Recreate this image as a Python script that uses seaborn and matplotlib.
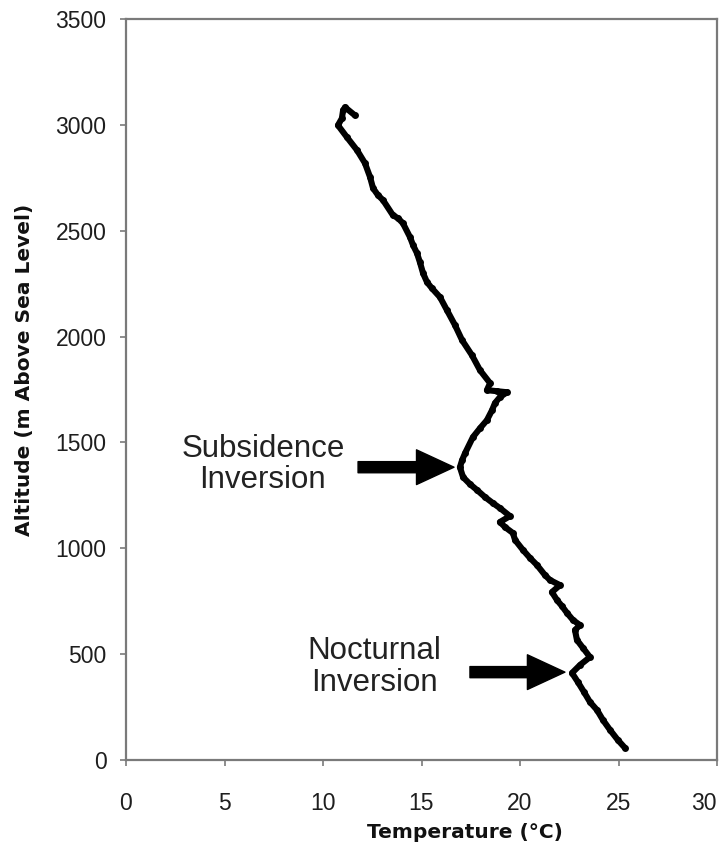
import matplotlib
matplotlib.use("Agg")
import matplotlib.pyplot as plt
import seaborn as sns
import pandas as pd

# Temperature profile, bottom to top
temperature_c = [25.33, 24.97, 24.57, 24.21, 23.91, 23.55, 23.25, 22.94, 22.64, 23.05,
                 23.55, 23.20, 22.89, 22.79, 23.05, 22.69, 22.39, 22.13, 21.88, 21.62,
                 22.03, 21.52, 21.27, 20.86, 20.51, 20.15, 19.75, 19.64, 19.24, 18.98,
                 19.49, 18.98, 18.63, 18.22, 17.82, 17.46, 17.11, 16.95, 17.06, 17.21,
                 17.61, 17.97, 18.32, 18.58, 18.73, 18.98, 19.34, 18.83, 18.32, 18.48,
                 17.97, 17.56, 17.06, 16.70, 16.29, 15.94, 15.53, 15.28, 15.08, 14.92,
                 14.77, 14.57, 14.42, 14.06, 13.81, 13.55, 13.05, 12.79, 12.54, 12.39,
                 12.13, 11.73, 11.22, 10.76, 10.96, 11.02, 11.12, 11.62]
altitude_m = [57, 94, 142, 189, 236, 274, 321, 368, 411, 449,
              486, 529, 567, 614, 637, 661, 694, 727, 755, 793,
              826, 850, 873, 921, 954, 992, 1039, 1072, 1100, 1124,
              1152, 1190, 1213, 1242, 1275, 1303, 1336, 1383, 1416, 1449,
              1525, 1567, 1605, 1652, 1686, 1714, 1737, 1742, 1747, 1780,
              1841, 1912, 1983, 2054, 2125, 2186, 2228, 2257, 2299, 2351,
              2394, 2432, 2469, 2535, 2559, 2573, 2644, 2668, 2701, 2753,
              2819, 2880, 2941, 2998, 3031, 3069, 3083, 3045]

x_ticks = [0, 5, 10, 15, 20, 25, 30]
y_ticks = [0, 500, 1000, 1500, 2000, 2500, 3000, 3500]

x_label = "Temperature (°C)"
y_label = "Altitude (m Above Sea Level)"

annotations = ["Subsidence\nInversion", "Nocturnal\nInversion"]
annot_text_xy = [(6.95, 1397), (12.59, 439)]
arrow_tail = [(11.78, 1383), (17.46, 415)]
arrow_tip = [(16.65, 1383), (22.28, 415)]

sns.set_style("white")
plt.rcParams['font.family'] = ['Liberation Sans', 'DejaVu Sans']

df = pd.DataFrame({"T": temperature_c, "Alt": altitude_m})

W, H = 722, 849
fig = plt.figure(figsize=(W / 100, H / 100), dpi=100)
ax = fig.add_axes([126 / W, 1 - 760 / H, (717 - 126) / W, (760 - 19) / H])

sns.lineplot(data=df, x="T", y="Alt", sort=False, estimator=None, ax=ax,
             color="black", linewidth=4.4, marker="o", markersize=5,
             markeredgewidth=0, solid_capstyle="round", solid_joinstyle="round")

ax.set_xlim(0, 30)
ax.set_ylim(0, 3500)
ax.set_xticks(x_ticks)
ax.set_yticks(y_ticks)
ax.set_xticklabels([str(v) for v in x_ticks])
ax.set_yticklabels([str(v) for v in y_ticks])
ax.get_xticklabels()[-1].set_horizontalalignment("right")

for s in ax.spines.values():
    s.set_visible(True)
    s.set_color("#7a7a7a")
    s.set_linewidth(1.6)

ax.tick_params(axis="both", direction="out", length=4, width=1.2, color="#7a7a7a",
               labelsize=16.5, labelcolor="#1e1e1e")
ax.tick_params(axis="x", pad=19, bottom=True)
ax.tick_params(axis="y", pad=10, left=True)

ax.set_xlabel("")
ax.set_ylabel("")
fig.text(465 / W, 1 - 832 / H, x_label, ha="center", va="center",
         fontfamily="DejaVu Sans", fontweight="bold", fontsize=14.5, color="#111111")
fig.text(25 / W, 1 - 370 / H, y_label, ha="center", va="center", rotation=90,
         fontfamily="DejaVu Sans", fontweight="bold", fontsize=14.5, color="#111111")

for txt, (tx, ty), tail, tip in zip(annotations, annot_text_xy, arrow_tail, arrow_tip):
    ax.text(tx, ty, txt, ha="center", va="center", multialignment="center",
            fontsize=22.5, color="#222222", linespacing=1.05)
    ax.annotate("", xy=tip, xytext=tail,
                arrowprops=dict(arrowstyle="simple,head_length=27,head_width=25,tail_width=8",
                                mutation_scale=1, color="black", shrinkA=0, shrinkB=0))

fig.savefig("out.png", dpi=100)
